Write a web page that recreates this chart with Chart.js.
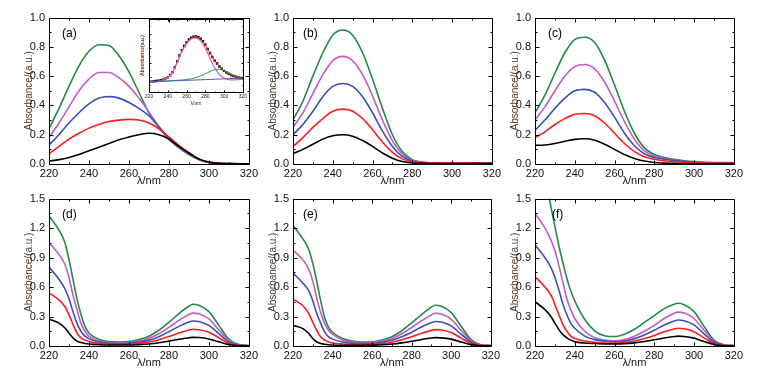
<!DOCTYPE html>
<html>
<head>
<meta charset="utf-8">
<script src="https://cdn.jsdelivr.net/npm/chart.js@4.4.0/dist/chart.umd.min.js"></script>
<style>
  body { margin: 0; background: #fff; width: 757px; height: 371px; position: relative; overflow: hidden; }
  canvas { position: absolute; }
</style>
</head>
<body>
<canvas id="pa"></canvas>
<canvas id="pb"></canvas>
<canvas id="pc"></canvas>
<canvas id="pd"></canvas>
<canvas id="pe"></canvas>
<canvas id="pf"></canvas>
<canvas id="inset"></canvas>
<script>
// wavelengths (nm)
const wlTop = [220, 225, 230, 235, 240, 245, 250, 255, 260, 265, 270, 275, 280, 285, 290, 295, 300, 305, 310, 315, 320];
const wlBottom = [220, 225, 228, 230, 232, 234, 236, 238, 240, 245, 250, 255, 260, 265, 270, 275, 280, 285, 290, 292, 295, 300, 305, 310, 315, 320];
const wlInsetData = [220, 222.5, 225, 227.5, 230, 232.5, 235, 237.5, 240, 242.5, 245, 247.5, 250, 252.5, 255, 257.5, 260, 262.5, 265, 267.5, 270, 272.5, 275, 277.5, 280, 282.5, 285, 287.5, 290, 292.5, 295, 297.5, 300, 302.5, 305, 307.5, 310, 312.5, 315, 317.5, 320];
const xTicks = [220, 240, 260, 280, 300, 320];

// panel (a)
const aBlack = [0.02, 0.03, 0.045, 0.065, 0.09, 0.115, 0.14, 0.165, 0.185, 0.2, 0.21, 0.2, 0.17, 0.12, 0.075, 0.035, 0.013, 0.005, 0.002, 0.001, 0.001];
const aRed = [0.07, 0.12, 0.17, 0.21, 0.245, 0.27, 0.29, 0.3, 0.305, 0.3, 0.28, 0.24, 0.185, 0.128, 0.078, 0.035, 0.012, 0.005, 0.003, 0.002, 0.002];
const aBlue = [0.13, 0.2, 0.28, 0.35, 0.41, 0.45, 0.46, 0.45, 0.42, 0.38, 0.33, 0.255, 0.178, 0.117, 0.07, 0.031, 0.011, 0.005, 0.003, 0.002, 0.002];
const aMagenta = [0.18, 0.28, 0.39, 0.5, 0.58, 0.625, 0.625, 0.59, 0.53, 0.45, 0.355, 0.255, 0.175, 0.115, 0.068, 0.03, 0.01, 0.005, 0.003, 0.002, 0.002];
const aGreen = [0.24, 0.38, 0.53, 0.67, 0.77, 0.815, 0.81, 0.74, 0.63, 0.49, 0.35, 0.25, 0.17, 0.11, 0.065, 0.03, 0.01, 0.005, 0.003, 0.002, 0.002];

// panel (b)
const bBlack = [0.07, 0.1, 0.135, 0.17, 0.193, 0.2, 0.19, 0.16, 0.12, 0.075, 0.04, 0.017, 0.007, 0.004, 0.003, 0.003, 0.003, 0.003, 0.003, 0.003, 0.003];
const bRed = [0.12, 0.18, 0.25, 0.31, 0.36, 0.375, 0.36, 0.31, 0.235, 0.15, 0.08, 0.035, 0.014, 0.008, 0.006, 0.006, 0.006, 0.006, 0.006, 0.006, 0.006];
const bBlue = [0.2, 0.27, 0.36, 0.46, 0.53, 0.55, 0.53, 0.46, 0.35, 0.225, 0.12, 0.052, 0.02, 0.01, 0.007, 0.007, 0.007, 0.007, 0.007, 0.007, 0.007];
const bMagenta = [0.25, 0.35, 0.48, 0.61, 0.705, 0.735, 0.705, 0.61, 0.465, 0.3, 0.16, 0.068, 0.025, 0.011, 0.008, 0.007, 0.007, 0.007, 0.007, 0.007, 0.007];
const bGreen = [0.3, 0.43, 0.6, 0.76, 0.88, 0.915, 0.88, 0.76, 0.58, 0.38, 0.2, 0.085, 0.03, 0.012, 0.008, 0.007, 0.007, 0.007, 0.007, 0.007, 0.007];

// panel (c)
const cBlack = [0.128, 0.13, 0.14, 0.155, 0.168, 0.172, 0.162, 0.135, 0.1, 0.065, 0.038, 0.02, 0.01, 0.006, 0.003, 0.002, 0.001, 0.001, 0.001, 0.001, 0.001];
const cRed = [0.18, 0.22, 0.27, 0.31, 0.34, 0.345, 0.33, 0.28, 0.21, 0.14, 0.085, 0.05, 0.032, 0.022, 0.016, 0.012, 0.009, 0.007, 0.005, 0.005, 0.005];
const cBlue = [0.23, 0.3, 0.38, 0.45, 0.5, 0.51, 0.49, 0.42, 0.32, 0.21, 0.125, 0.07, 0.045, 0.032, 0.023, 0.016, 0.012, 0.009, 0.007, 0.006, 0.006];
const cMagenta = [0.3, 0.39, 0.5, 0.6, 0.665, 0.68, 0.65, 0.56, 0.43, 0.29, 0.17, 0.09, 0.055, 0.038, 0.027, 0.019, 0.014, 0.01, 0.009, 0.008, 0.008];
const cGreen = [0.35, 0.47, 0.62, 0.76, 0.85, 0.866, 0.83, 0.71, 0.54, 0.36, 0.21, 0.11, 0.065, 0.045, 0.032, 0.022, 0.016, 0.012, 0.01, 0.01, 0.01];

// panel (d)
const dBlack = [0.273, 0.233, 0.183, 0.133, 0.083, 0.05, 0.035, 0.025, 0.02, 0.013, 0.01, 0.01, 0.01, 0.014, 0.021, 0.033, 0.05, 0.068, 0.084, 0.088, 0.086, 0.072, 0.043, 0.015, 0.003, 0.001];
const dRed = [0.54, 0.47, 0.4, 0.32, 0.22, 0.13, 0.083, 0.06, 0.045, 0.027, 0.02, 0.018, 0.019, 0.027, 0.04, 0.064, 0.096, 0.132, 0.162, 0.17, 0.166, 0.14, 0.084, 0.028, 0.006, 0.002];
const dBlue = [0.8, 0.68, 0.58, 0.48, 0.35, 0.23, 0.15, 0.1, 0.075, 0.04, 0.028, 0.025, 0.027, 0.04, 0.06, 0.095, 0.145, 0.2, 0.243, 0.255, 0.25, 0.21, 0.125, 0.042, 0.009, 0.003];
const dMagenta = [1.057, 0.93, 0.83, 0.7, 0.52, 0.37, 0.23, 0.15, 0.1, 0.05, 0.035, 0.032, 0.035, 0.05, 0.08, 0.125, 0.19, 0.26, 0.32, 0.335, 0.328, 0.275, 0.165, 0.055, 0.012, 0.004];
const dGreen = [1.323, 1.18, 1.05, 0.88, 0.68, 0.48, 0.32, 0.2, 0.133, 0.067, 0.045, 0.04, 0.045, 0.065, 0.1, 0.16, 0.24, 0.33, 0.405, 0.425, 0.415, 0.35, 0.21, 0.07, 0.015, 0.005];

// panel (e)
const eBlack = [0.21, 0.177, 0.127, 0.077, 0.043, 0.025, 0.018, 0.013, 0.01, 0.007, 0.006, 0.006, 0.007, 0.012, 0.02, 0.032, 0.048, 0.066, 0.081, 0.085, 0.083, 0.07, 0.041, 0.014, 0.003, 0.001];
const eRed = [0.477, 0.41, 0.33, 0.243, 0.16, 0.093, 0.06, 0.04, 0.03, 0.02, 0.015, 0.015, 0.016, 0.025, 0.039, 0.063, 0.094, 0.129, 0.159, 0.167, 0.163, 0.137, 0.08, 0.027, 0.006, 0.002];
const eBlue = [0.743, 0.64, 0.56, 0.46, 0.33, 0.23, 0.143, 0.093, 0.07, 0.04, 0.027, 0.025, 0.026, 0.037, 0.058, 0.094, 0.141, 0.193, 0.238, 0.25, 0.244, 0.205, 0.12, 0.04, 0.008, 0.003];
const eMagenta = [0.977, 0.877, 0.78, 0.66, 0.49, 0.34, 0.23, 0.16, 0.12, 0.06, 0.037, 0.033, 0.035, 0.05, 0.077, 0.125, 0.188, 0.257, 0.317, 0.333, 0.325, 0.272, 0.16, 0.052, 0.011, 0.004];
const eGreen = [1.227, 1.09, 0.98, 0.84, 0.66, 0.46, 0.29, 0.19, 0.14, 0.077, 0.05, 0.04, 0.042, 0.06, 0.095, 0.155, 0.235, 0.32, 0.395, 0.415, 0.405, 0.34, 0.2, 0.065, 0.013, 0.005];

// panel (f)
const fBlack = [0.45, 0.37, 0.3, 0.233, 0.167, 0.117, 0.083, 0.06, 0.043, 0.03, 0.025, 0.022, 0.02, 0.023, 0.032, 0.046, 0.063, 0.082, 0.096, 0.1, 0.097, 0.08, 0.046, 0.015, 0.003, 0.001];
const fRed = [0.707, 0.6, 0.52, 0.42, 0.32, 0.22, 0.15, 0.1, 0.077, 0.05, 0.037, 0.03, 0.028, 0.034, 0.05, 0.076, 0.108, 0.145, 0.173, 0.18, 0.175, 0.145, 0.083, 0.026, 0.005, 0.002];
const fBlue = [1.03, 0.9, 0.8, 0.7, 0.57, 0.43, 0.32, 0.23, 0.18, 0.1, 0.065, 0.05, 0.042, 0.05, 0.075, 0.113, 0.16, 0.213, 0.255, 0.265, 0.257, 0.215, 0.123, 0.04, 0.008, 0.003];
const fMagenta = [1.35, 1.2, 1.08, 0.97, 0.82, 0.65, 0.48, 0.37, 0.28, 0.15, 0.083, 0.06, 0.052, 0.065, 0.1, 0.15, 0.21, 0.28, 0.333, 0.345, 0.335, 0.28, 0.16, 0.05, 0.01, 0.004];
const fGreen = [2.5, 1.8, 1.42, 1.22, 1.02, 0.85, 0.69, 0.56, 0.46, 0.27, 0.155, 0.105, 0.096, 0.12, 0.17, 0.24, 0.31, 0.38, 0.425, 0.435, 0.42, 0.35, 0.2, 0.06, 0.012, 0.005];

// inset of (a): fit of the black spectrum (relative units)
const inData = [0.14, 0.142, 0.145, 0.15, 0.155, 0.162, 0.17, 0.183, 0.2, 0.23, 0.27, 0.34, 0.42, 0.5, 0.57, 0.63, 0.68, 0.72, 0.745, 0.758, 0.76, 0.75, 0.73, 0.695, 0.65, 0.59, 0.53, 0.48, 0.43, 0.39, 0.35, 0.318, 0.29, 0.268, 0.25, 0.233, 0.22, 0.21, 0.2, 0.19, 0.18];
const inFit = [0.14, 0.144, 0.153, 0.172, 0.205, 0.275, 0.41, 0.56, 0.675, 0.74, 0.758, 0.725, 0.645, 0.535, 0.43, 0.35, 0.29, 0.248, 0.218, 0.197, 0.18];
const inPeak1 = [0.135, 0.138, 0.145, 0.16, 0.195, 0.265, 0.4, 0.55, 0.66, 0.725, 0.74, 0.7, 0.6, 0.46, 0.33, 0.24, 0.19, 0.17, 0.165, 0.17, 0.175];
const inPeak2 = [0.14, 0.142, 0.145, 0.148, 0.15, 0.155, 0.16, 0.165, 0.17, 0.18, 0.2, 0.22, 0.25, 0.28, 0.305, 0.31, 0.29, 0.26, 0.23, 0.21, 0.2];
const inBase = [0.14, 0.142, 0.145, 0.147, 0.15, 0.152, 0.155, 0.157, 0.16, 0.162, 0.165, 0.167, 0.17, 0.172, 0.175, 0.177, 0.18, 0.182, 0.185, 0.187, 0.19];

const lineColors = ["#000000", "#ff1c1c", "#3c4fb6", "#c25bc6", "#22894a"];

Chart.defaults.font.family = '"Liberation Sans", Arial, sans-serif';
Chart.defaults.color = "#111";

// box around the plot with inward ticks on all four sides + panel letter
function framePlugin(label, labelDx, major, minor, labelSize) {
   return {
      id: "frame",
      afterDatasetsDraw(chart) {
         const { ctx, chartArea: a, scales } = chart;
         const x = scales.x, y = scales.y;
         const L = Math.round(a.left) + 0.5, R = Math.round(a.right) + 0.5;
         const T = Math.round(a.top) + 0.5, B = Math.round(a.bottom) + 0.5;
         ctx.save();
         ctx.strokeStyle = "#000";
         ctx.lineWidth = 1;
         ctx.beginPath();
         ctx.rect(L, T, R - L, B - T);
         const xv = x.ticks.map((t) => t.value);
         const yv = y.ticks.map((t) => t.value);
         const xs = xv[1] - xv[0], ys = yv[1] - yv[0];
         xv.forEach((v, i) => {
            const p = Math.round(x.getPixelForValue(v)) + 0.5;
            ctx.moveTo(p, B); ctx.lineTo(p, B - major);
            ctx.moveTo(p, T); ctx.lineTo(p, T + major);
            if (i < xv.length - 1) {
               const q = Math.round(x.getPixelForValue(v + xs / 2)) + 0.5;
               ctx.moveTo(q, B); ctx.lineTo(q, B - minor);
               ctx.moveTo(q, T); ctx.lineTo(q, T + minor);
            }
         });
         yv.forEach((v, i) => {
            const p = Math.round(y.getPixelForValue(v)) + 0.5;
            ctx.moveTo(L, p); ctx.lineTo(L + major, p);
            ctx.moveTo(R, p); ctx.lineTo(R - major, p);
            if (i < yv.length - 1) {
               const q = Math.round(y.getPixelForValue(v + ys / 2)) + 0.5;
               ctx.moveTo(L, q); ctx.lineTo(L + minor, q);
               ctx.moveTo(R, q); ctx.lineTo(R - minor, q);
            }
         });
         ctx.stroke();
         if (label) {
            ctx.fillStyle = "#000";
            ctx.font = labelSize + 'px "Liberation Sans", Arial, sans-serif';
            ctx.textBaseline = "middle";
            ctx.fillText(label, a.left + labelDx, a.top + 16);
         }
         ctx.restore();
      },
   };
}

function series(wl, vals, color, width) {
   return {
      data: wl.map((x, i) => ({ x: x, y: vals[i] })),
      borderColor: color,
      borderWidth: width,
      pointRadius: 0,
      fill: false,
      cubicInterpolationMode: "monotone",
   };
}

function makePanel(id, left, top, plotW, plotH, wl, curves, yMax, yStep, label, labelDx) {
   const padTop = 8, padRight = 12, yW = 49, xH = 24;
   const cv = document.getElementById(id);
   cv.width = yW + plotW + padRight;
   cv.height = padTop + plotH + xH;
   cv.style.left = left - yW + "px";
   cv.style.top = top - padTop + "px";
   cv.style.width = cv.width + "px";
   cv.style.height = cv.height + "px";
   return new Chart(cv.getContext("2d"), {
      type: "line",
      data: { datasets: curves.map((c, i) => series(wl, c, lineColors[i], 1.6)) },
      options: {
         responsive: false,
         animation: false,
         events: [],
         layout: { padding: { top: padTop, right: padRight, left: 0, bottom: 0 } },
         plugins: { legend: { display: false }, tooltip: { enabled: false } },
         scales: {
            x: {
               type: "linear",
               min: 220,
               max: 320,
               afterFit(s) { s.height = xH; },
               afterBuildTicks(s) { s.ticks = xTicks.map((v) => ({ value: v })); },
               grid: { display: false, drawTicks: false },
               border: { display: false },
               ticks: { padding: 3, font: { size: 11 }, color: "#111", maxRotation: 0, autoSkip: false },
               title: { display: true, text: "λ/nm", font: { size: 11 }, color: "#111", padding: { top: 0, bottom: 0 } },
            },
            y: {
               min: 0,
               max: yMax,
               afterFit(s) { s.width = yW; },
               grid: { display: false, drawTicks: false },
               border: { display: false },
               ticks: { stepSize: yStep, padding: 4, font: { size: 11 }, color: "#111", callback: (v) => v.toFixed(1) },
               title: { display: true, text: "Absorbance/(a.u.)", font: { size: 10 }, color: "#4a3424", padding: { top: 23, bottom: 0 } },
            },
         },
      },
      plugins: [framePlugin(label, labelDx, 4, 2, 12)],
   });
}

makePanel("pa", 49, 15, 200, 149, wlTop, [aBlack, aRed, aBlue, aMagenta, aGreen], 1.0, 0.2, "(a)", 13);
makePanel("pb", 293, 15, 199, 149, wlTop, [bBlack, bRed, bBlue, bMagenta, bGreen], 1.0, 0.2, "(b)", 10);
makePanel("pc", 535, 15, 199, 149, wlTop, [cBlack, cRed, cBlue, cMagenta, cGreen], 1.0, 0.2, "(c)", 13);
makePanel("pd", 49, 196, 200, 150, wlBottom, [dBlack, dRed, dBlue, dMagenta, dGreen], 1.5, 0.3, "(d)", 13);
makePanel("pe", 293, 196, 198, 150, wlBottom, [eBlack, eRed, eBlue, eMagenta, eGreen], 1.5, 0.3, "(e)", 10);
makePanel("pf", 535, 196, 199, 150, wlBottom, [fBlack, fRed, fBlue, fMagenta, fGreen], 1.5, 0.3, "(f)", 17);

// inset chart inside panel (a)
(function () {
   const padTop = 3, padRight = 5, yW = 9, xH = 16;
   const plotW = 95, plotH = 74;
   const cv = document.getElementById("inset");
   cv.width = yW + plotW + padRight;
   cv.height = padTop + plotH + xH;
   cv.style.left = 149 - yW + "px";
   cv.style.top = 18 - padTop + "px";
   cv.style.width = cv.width + "px";
   cv.style.height = cv.height + "px";
   new Chart(cv.getContext("2d"), {
      type: "line",
      data: {
         datasets: [
            series(wlTop, inBase, "#4a5cc0", 1),
            series(wlTop, inPeak2, "#2e9a4e", 1),
            series(wlTop, inPeak1, "#d060d0", 1.2),
            series(wlTop, inFit, "#ff2020", 1),
            {
               data: wlInsetData.map((x, i) => ({ x: x, y: inData[i] })),
               showLine: false,
               pointStyle: "rect",
               pointRadius: 1.7,
               pointBackgroundColor: "#000",
               pointBorderColor: "#000",
               pointBorderWidth: 0,
            },
         ],
      },
      options: {
         responsive: false,
         animation: false,
         events: [],
         layout: { padding: { top: padTop, right: padRight, left: 0, bottom: 0 } },
         plugins: { legend: { display: false }, tooltip: { enabled: false } },
         scales: {
            x: {
               type: "linear",
               min: 220,
               max: 320,
               afterFit(s) { s.height = xH; },
               afterBuildTicks(s) { s.ticks = xTicks.map((v) => ({ value: v })); },
               grid: { display: false, drawTicks: false },
               border: { display: false },
               ticks: { padding: 2, font: { size: 5 }, color: "#222", maxRotation: 0, autoSkip: false },
               title: { display: true, text: "λ/nm", font: { size: 5 }, color: "#222", padding: { top: 0, bottom: 1 } },
            },
            y: {
               min: 0,
               max: 1,
               afterFit(s) { s.width = yW; },
               grid: { display: false, drawTicks: false },
               border: { display: false },
               ticks: { display: false, stepSize: 0.2 },
               title: { display: true, text: "Absorbance(a.u.)", font: { size: 5, weight: "bold" }, color: "#6a3a1a", padding: { top: 0, bottom: 0 } },
            },
         },
      },
      plugins: [framePlugin(null, 0, 2, 1, 5)],
   });
})();
</script>
</body>
</html>
